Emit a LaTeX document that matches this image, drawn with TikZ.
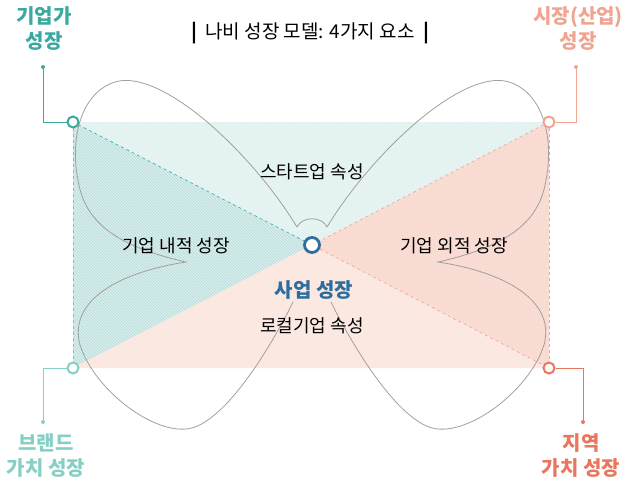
\documentclass[tikz,border=0pt]{standalone}
\usepackage{fontspec}
\setmainfont{Noto Sans CJK KR}
\usetikzlibrary{patterns}
\definecolor{teal1}{HTML}{3AA9A0}
\definecolor{teal2}{HTML}{86CFC4}
\definecolor{peach1}{HTML}{EFA592}
\definecolor{coral}{HTML}{E8775E}
\definecolor{navy}{HTML}{2E6E9E}
\definecolor{wing}{HTML}{A0A0A0}
\definecolor{ttop}{HTML}{EAF5F4}
\definecolor{tleft}{HTML}{DAEDEC}
\definecolor{pright}{HTML}{FBE2D8}
\definecolor{pbot}{HTML}{FCE8E0}
\tikzset{
 lbl/.style={font=\fontsize{20}{25}\selectfont\bfseries, align=center},
 txt/.style={font=\fontsize{18}{21}\selectfont, inner sep=1pt},
 ring/.style={circle, draw=#1, line width=2pt, fill=white, minimum size=11pt, inner sep=0pt},
 dotc/.style={circle, fill=#1, minimum size=4pt, inner sep=0pt},
}
\begin{document}
\begin{tikzpicture}[x=1pt,y=-1pt]
\useasboundingbox (0,0) rectangle (636,491);
\coordinate (TL) at (73,122); \coordinate (TR) at (549,122);
\coordinate (BL) at (73,368); \coordinate (BR) at (549,368);
\coordinate (C) at (312,245);
% regions
\fill[ttop] (TL)--(TR)--(C)--cycle;
\fill[tleft] (TL)--(BL)--(C)--cycle;
\fill[pright] (TR)--(BR)--(C)--cycle;
\fill[pbot] (BL)--(BR)--(C)--cycle;
\fill[pattern=north west lines, pattern color=teal2!30] (TL)--(TR)--(C)--cycle;
\fill[pattern=north west lines, pattern color=teal1!40] (TL)--(BL)--(C)--cycle;
\fill[pattern=north west lines, pattern color=peach1!50] (TR)--(BR)--(C)--cycle;
\fill[pattern=north west lines, pattern color=peach1!25] (BL)--(BR)--(C)--cycle;
% dashed
\draw[teal1, dashed, line width=0.6pt] (TL)--(C);
\draw[teal1!70, dashed, line width=0.5pt] (TL)--(BL);
\draw[peach1, dashed, line width=0.6pt] (TR)--(C)--(BR);
\draw[peach1, dashed, line width=0.5pt] (TR)--(BR);
% butterfly
\def\halfwing{(297,227) .. controls (250,150) and (160,68) .. (115,82) .. controls (80,93) and (70,140) .. (78,180) .. controls (84,218) and (110,245) .. (186,262) .. controls (120,272) and (68,300) .. (80,345) .. controls (95,392) and (160,440) .. (195,427) .. controls (230,414) and (272,345) .. (293,302)}
\draw[wing, line width=0.8pt] \halfwing;
\begin{scope}[xshift=624pt, xscale=-1]
\draw[wing, line width=0.8pt] \halfwing;
\end{scope}
\draw[wing, line width=0.8pt] (297,227) .. controls (302,216) and (322,216) .. (327,227);
% rings
\node[ring=teal1] (tl) at (TL) {};
\node[ring=peach1] (tr) at (TR) {};
\node[ring=teal2] (bl) at (BL) {};
\node[ring=coral] (br) at (BR) {};
\node[ring=navy, minimum size=15pt, line width=2.8pt] (c) at (C) {};
% leader lines
\node[dotc=teal1] (d1) at (43,67) {};
\node[dotc=peach1] (d2) at (576,67) {};
\node[dotc=teal2] (d3) at (43,422) {};
\node[dotc=coral] (d4) at (583,422) {};
\draw[teal1, line width=1pt] (d1) |- (tl);
\draw[peach1, line width=1pt] (d2) |- (tr);
\draw[teal2, line width=1pt] (d3) |- (bl);
\draw[coral, line width=1pt] (d4) |- (br);
% labels
\node[lbl, text=teal1] (l1) at (44,29) {기업가\\성장};
\node[lbl, text=peach1] (l2) at (578,29) {시장(산업)\\성장};
\node[lbl, text=teal2] (l3) at (46,456) {브랜드\\가치 성장};
\node[lbl, text=coral] (l4) at (581,456) {지역\\가치 성장};
\node[font=\fontsize{19}{22}\selectfont] (title) at (310,33) {\textbf{|}\ \ 나비 성장 모델: 4가지 요소\ \ \textbf{|}};
\node[txt] (t1) at (312,172) {스타트업 속성};
\node[txt] (t2) at (176,246) {기업 내적 성장};
\node[txt] (t3) at (454,246) {기업 외적 성장};
\node[font=\fontsize{20}{23}\selectfont\bfseries, text=navy] (t4) at (314,290) {사업 성장};
\node[txt] (t5) at (312,326) {로컬기업 속성};
\end{tikzpicture}
\end{document}
